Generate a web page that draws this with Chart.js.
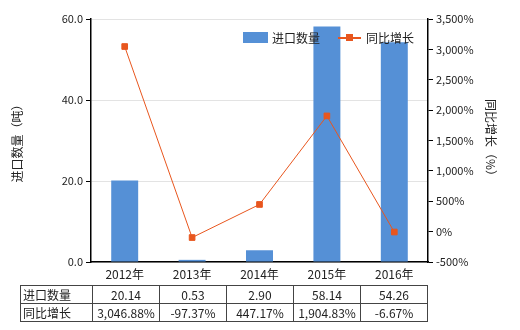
<!DOCTYPE html>
<html>
<head>
<meta charset="utf-8">
<script src="https://cdn.jsdelivr.net/npm/chart.js@4"></script>
<style>
  body { margin: 0; background: #fff; }
  #wrap { position: relative; width: 520px; height: 330px; font-family: "Noto Sans CJK SC", sans-serif; color: #222; }
  #legend { position: absolute; left: 243px; top: 29px; font-size: 12px; display: flex; align-items: center; }
  .sw { display: inline-block; width: 25px; height: 11px; background: #5590d6; margin-right: 4px; }
  .ln { display: inline-block; position: relative; width: 23px; height: 11px; margin: 0 5px 0 18px; }
  .ln:before { content: ""; position: absolute; left: 0; right: 0; top: 5px; height: 2px; background: #e8561e; }
  .ln:after { content: ""; position: absolute; left: 8px; top: 2px; width: 7px; height: 7px; background: #e8561e; }
  table { position: absolute; left: 20px; top: 285px; border-collapse: collapse; font-size: 12px; }
  td { border: 1px solid #444; height: 17px; padding: 0; text-align: center; width: 66px; line-height: 17px; }
  td.h { text-align: left; width: 69px; padding-left: 2px; }
</style>
</head>
<body>
<div id="wrap">
  <canvas id="myChart" width="520" height="330"></canvas>
  <div id="legend"><span class="sw"></span>进口数量<span class="ln"></span>同比增长</div>
  <table id="tbl"></table>
</div>
<script>
"use strict";

const years = ["2012年", "2013年", "2014年", "2015年", "2016年"];
const importQty = [20.14, 0.53, 2.90, 58.14, 54.26];
const growth = [3046.88, -97.37, 447.17, 1904.83, -6.67];
const qtyLabels = ["20.14", "0.53", "2.90", "58.14", "54.26"];
const growthLabels = ["3,046.88%", "-97.37%", "447.17%", "1,904.83%", "-6.67%"];

const fontFamily = "'Noto Sans CJK SC', sans-serif";

// table under the chart
let tbl = document.getElementById("tbl");
function addRow(name, cells) {
  let tr = document.createElement("tr");
  let th = document.createElement("td");
  th.className = "h";
  th.textContent = name;
  tr.appendChild(th);
  for (let i = 0; i < cells.length; i++) {
    let td = document.createElement("td");
    td.textContent = cells[i];
    tr.appendChild(td);
  }
  tbl.appendChild(tr);
}
addRow("进口数量", qtyLabels);
addRow("同比增长", growthLabels);

const data = {
  labels: years,
  datasets: [
    {
      type: "line",
      label: "同比增长",
      data: growth,
      yAxisID: "y1",
      borderColor: "#e8561e",
      backgroundColor: "#e8561e",
      borderWidth: 1,
      pointStyle: "rect",
      pointRadius: 4,
      pointHoverRadius: 4,
      order: 0,
    },
    {
      type: "bar",
      label: "进口数量",
      data: importQty,
      yAxisID: "y",
      backgroundColor: "#5590d6",
      barPercentage: 0.4,
      categoryPercentage: 1,
      order: 1,
    },
  ],
};

const config = {
  data: data,
  options: {
    responsive: false,
    animation: false,
    layout: { padding: { top: 19, bottom: 0, left: 0, right: 0 } },
    plugins: {
      legend: { display: false },
      tooltip: { enabled: false },
    },
    scales: {
      x: {
        offset: true,
        grid: { display: false, drawTicks: false },
        border: { color: "#000", width: 1.5 },
        ticks: { color: "#222", font: { family: fontFamily, size: 12 }, padding: 5 },
        afterFit: (s) => { s.height = 68; },
      },
      y: {
        position: "left",
        min: 0,
        max: 60,
        ticks: {
          stepSize: 20,
          color: "#222",
          font: { family: fontFamily, size: 11 },
          callback: (v) => v.toFixed(1),
        },
        grid: { color: "#e3e3e3", tickColor: "#000", tickLength: 5 },
        border: { color: "#000", width: 1.5 },
        title: {
          display: true,
          text: "进口数量（吨）",
          color: "#222",
          font: { family: fontFamily, size: 12 },
          padding: { top: 10 },
        },
        afterFit: (s) => { s.width = 91; },
      },
      y1: {
        position: "right",
        min: -500,
        max: 3500,
        ticks: {
          stepSize: 500,
          color: "#222",
          font: { family: fontFamily, size: 11 },
          callback: (v) => v.toLocaleString("en-US") + "%",
        },
        grid: { drawOnChartArea: false, tickColor: "#000", tickLength: 5 },
        border: { color: "#000", width: 1.5 },
        title: {
          display: true,
          text: "同比增长（%）",
          color: "#222",
          font: { family: fontFamily, size: 12 },
          padding: { top: 22, bottom: 0 },
        },
        afterFit: (s) => { s.width = 92; },
      },
    },
  },
};

new Chart(document.getElementById("myChart"), config);
</script>
</body>
</html>
